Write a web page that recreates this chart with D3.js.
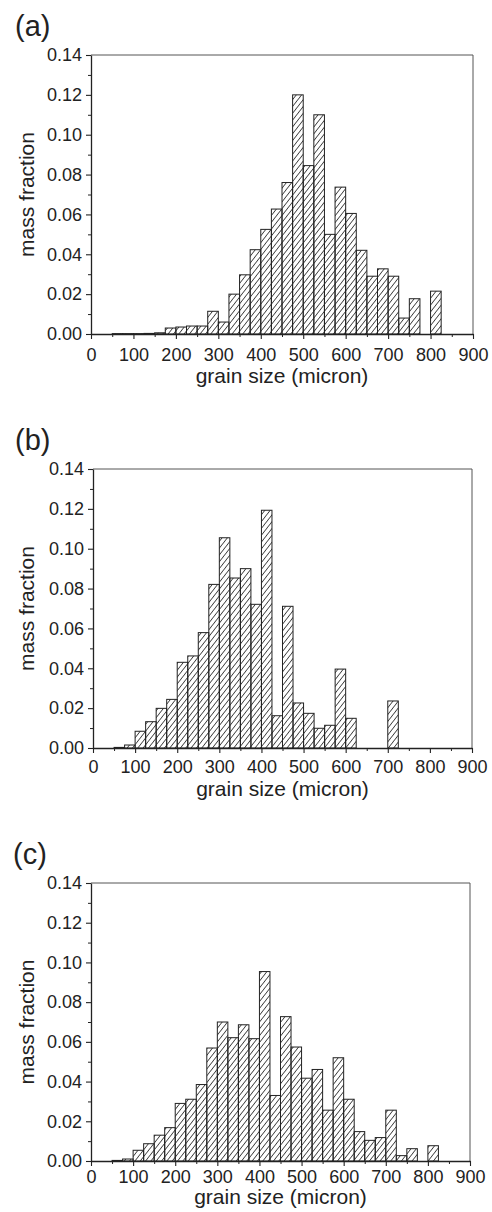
<!DOCTYPE html>
<html>
<head>
<meta charset="utf-8">
<script src="https://cdn.jsdelivr.net/npm/d3@7"></script>
<style>
  body { margin: 0; background: #fff; }
  svg { display: block; font-family: "Liberation Sans", Arial, sans-serif; }
  .tick text { fill: #222; }
</style>
</head>
<body>
<div id="chart"></div>
<script>
// bin left edges (micron), 25 micron wide
const binStarts = [50, 75, 100, 125, 150, 175, 200, 225, 250, 275, 300, 325, 350, 375, 400, 425,
    450, 475, 500, 525, 550, 575, 600, 625, 650, 675, 700, 725, 750, 775, 800];
const binWidth = 25;

const fracA = [0.0002, 0.0002, 0.0002, 0.0003, 0.0006, 0.003, 0.0035, 0.004, 0.004, 0.0114, 0.006, 0.020,
    0.0297, 0.0423, 0.0525, 0.0627, 0.076, 0.120, 0.0845, 0.110, 0.050, 0.0737, 0.0605, 0.042, 0.029,
    0.0327, 0.029, 0.008, 0.0177, 0, 0.0215];
const fracB = [0.0003, 0.0015, 0.0084, 0.0132, 0.0199, 0.0244, 0.043, 0.0462, 0.0579, 0.0821, 0.1055,
    0.0853, 0.090, 0.0721, 0.1193, 0.0162, 0.0711, 0.0226, 0.0174, 0.0099, 0.0114, 0.0396, 0.0149, 0, 0,
    0, 0.0236, 0, 0, 0, 0];
const fracC = [0.0003, 0.001, 0.0054, 0.0087, 0.013, 0.0168, 0.029, 0.0311, 0.0385, 0.0569, 0.070,
    0.0621, 0.0686, 0.0616, 0.0954, 0.033, 0.0727, 0.0574, 0.0417, 0.0461, 0.0256, 0.052, 0.0311, 0.0148,
    0.0104, 0.0118, 0.0256, 0.0027, 0.0062, 0, 0.0077];

const panelNames = ["(a)", "(b)", "(c)"];
const xTicks = [0, 100, 200, 300, 400, 500, 600, 700, 800, 900];
const yTicks = [0, 0.02, 0.04, 0.06, 0.08, 0.10, 0.12, 0.14];
const xLabel = "grain size (micron)";
const yLabel = "mass fraction";

// plot boxes in page pixels
const boxes = [
    { x0: 91, x1: 473, y0: 55, y1: 334, name: [15, 36], xlab: 49, tickPad: 9 },
    { x0: 93, x1: 472, y0: 469, y1: 748, name: [15, 450], xlab: 48, tickPad: 7 },
    { x0: 91, x1: 470, y0: 883, y1: 1161, name: [13, 864], xlab: 43, tickPad: 4 }
];

const width = 492, height = 1212;
const ink = "#222";

const svg = d3.select("#chart").append("svg")
    .attr("width", width)
    .attr("height", height);

// hatch fill "/"
svg.append("defs").append("pattern")
    .attr("id", "hatch")
    .attr("patternUnits", "userSpaceOnUse")
    .attr("width", 4.2)
    .attr("height", 10)
    .attr("patternTransform", "rotate(38)")
    .append("line")
    .attr("x1", 2.1).attr("y1", 0)
    .attr("x2", 2.1).attr("y2", 10)
    .attr("stroke", "#222")
    .attr("stroke-width", 0.8);

[fracA, fracB, fracC].forEach((vals, i) => {
    const b = boxes[i];
    const x = d3.scaleLinear().domain([0, 900]).range([b.x0, b.x1]);
    const y = d3.scaleLinear().domain([0, 0.14]).range([b.y1, b.y0]);
    const g = svg.append("g");

    // bars
    const data = binStarts.map((s, k) => ({ s, v: vals[k] })).filter(d => d.v > 0);
    g.append("g")
        .selectAll("rect")
        .data(data)
        .join("rect")
        .attr("x", d => x(d.s))
        .attr("width", d => x(d.s + binWidth) - x(d.s))
        .attr("y", d => y(d.v))
        .attr("height", d => y(0) - y(d.v))
        .attr("fill", "url(#hatch)")
        .attr("stroke", ink)
        .attr("stroke-width", 1);

    // top / right frame
    g.append("path")
        .attr("d", `M${b.x0},${b.y0}H${b.x1}V${b.y1}`)
        .attr("fill", "none")
        .attr("stroke", "#555")
        .attr("stroke-width", 1);

    // minor ticks
    g.append("g")
        .attr("transform", `translate(0,${b.y1})`)
        .call(d3.axisBottom(x).tickValues(d3.range(50, 900, 100)).tickSize(3).tickFormat(""))
        .call(a => a.select(".domain").remove())
        .call(a => a.selectAll("line").attr("stroke", ink));
    g.append("g")
        .attr("transform", `translate(${b.x0},0)`)
        .call(d3.axisLeft(y).tickValues(d3.range(0.01, 0.14, 0.02)).tickSize(3).tickFormat(""))
        .call(a => a.select(".domain").remove())
        .call(a => a.selectAll("line").attr("stroke", ink));

    // major axes
    const xa = g.append("g")
        .attr("transform", `translate(0,${b.y1})`)
        .call(d3.axisBottom(x).tickValues(xTicks).tickSize(5).tickSizeOuter(0).tickPadding(b.tickPad));
    const ya = g.append("g")
        .attr("transform", `translate(${b.x0},0)`)
        .call(d3.axisLeft(y).tickValues(yTicks).tickSize(5).tickSizeOuter(0).tickPadding(4)
            .tickFormat(d3.format(".2f")));
    [xa, ya].forEach(a => {
        a.attr("font-size", 18).attr("font-family", null);
        a.select(".domain").attr("stroke", ink).attr("stroke-width", 1.3);
        a.selectAll(".tick line").attr("stroke", ink).attr("stroke-width", 1.1);
    });

    // axis titles
    g.append("text")
        .attr("x", (b.x0 + b.x1) / 2)
        .attr("y", b.y1 + b.xlab)
        .attr("text-anchor", "middle")
        .attr("font-size", 21)
        .attr("fill", ink)
        .text(xLabel);
    g.append("text")
        .attr("transform", `translate(34,${(b.y0 + b.y1) / 2}) rotate(-90)`)
        .attr("text-anchor", "middle")
        .attr("font-size", 21)
        .attr("fill", ink)
        .text(yLabel);

    // panel tag
    g.append("text")
        .attr("x", b.name[0])
        .attr("y", b.name[1])
        .attr("font-size", 29)
        .attr("fill", ink)
        .text(panelNames[i]);
});
</script>
</body>
</html>
